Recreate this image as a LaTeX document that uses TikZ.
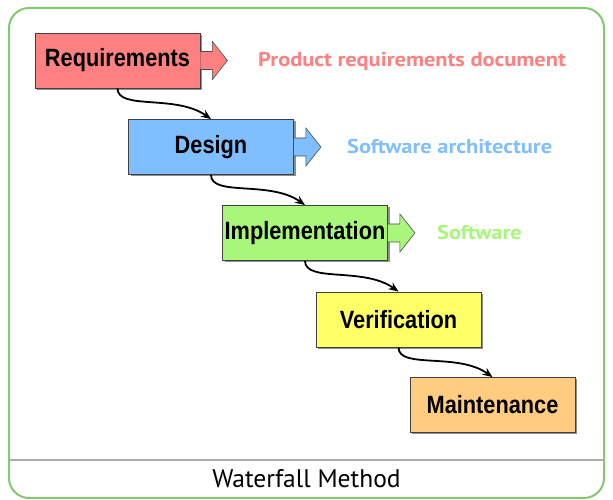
\documentclass[tikz,border=0pt]{standalone}
\usepackage{fontspec}
\usepackage{tikz}
\usetikzlibrary{shadows, arrows.meta}
\setmainfont{PT Sans}
\newfontfamily\stagefont{Liberation Sans}[FakeStretch=0.87]
\newfontfamily\productfont{PT Sans}[FakeStretch=1.12]

\definecolor{framegreen}{RGB}{132,200,112}
\definecolor{rulegray}{RGB}{172,172,176}
\definecolor{reqred}{RGB}{255,128,128}
\definecolor{desblue}{RGB}{128,191,255}
\definecolor{impgreen}{RGB}{168,246,122}
\definecolor{veryellow}{RGB}{255,255,102}
\definecolor{mainorange}{RGB}{255,204,128}

\tikzset{
  stage/.style={draw=black!75, line width=0.8pt, minimum width=165pt, minimum height=55pt,
    inner sep=0pt, font=\stagefont\bfseries\fontsize{25}{25}\selectfont,
    drop shadow={shadow xshift=2pt, shadow yshift=-2pt, opacity=0.55, fill=black!80}},
  outarrow/.style={draw=black!70, line width=0.6pt, line join=miter},
  product/.style={anchor=west, inner sep=0pt, font=\productfont\bfseries\fontsize{20}{20}\selectfont},
  flow/.style={-{Stealth[length=10pt, width=8pt]}, line width=1.8pt}
}

\begin{document}
\begin{tikzpicture}[x=1pt, y=1pt]
  \useasboundingbox (0,0) rectangle (613,500);
  % frame and caption
  \draw[framegreen, line width=2pt, rounded corners=20pt] (9,2) rectangle (604,492);
  \draw[rulegray, line width=2pt] (9,40) -- (604,40);
  \node (caption) at (306.5,21) {\fontsize{25.5}{25.5}\selectfont Waterfall Method};

    % stages
    \node[stage, fill=reqred] (req) at (117.5,439.5) {Requirements};
    \node[stage, fill=desblue] (des) at (211,353) {Design};
    \node[stage, fill=impgreen] (imp) at (305,267) {Implementation};
    \node[stage, fill=veryellow] (ver) at (398.5,180.5) {Verification};
    \node[stage, fill=mainorange] (mai) at (492.5,95) {Maintenance};

    % block arrows to the products
    \draw[outarrow, fill=reqred] (req.east) ++(0,9) -- ++(12,0) -- ++(0,10) -- ++(15,-19) -- ++(-15,-19) -- ++(0,10) -- ++(-12,0);
    \draw[outarrow, fill=desblue] (des.east) ++(0,9) -- ++(12,0) -- ++(0,10) -- ++(15,-19) -- ++(-15,-19) -- ++(0,10) -- ++(-12,0);
    \draw[outarrow, fill=impgreen] (imp.east) ++(0,9) -- ++(12,0) -- ++(0,10) -- ++(15,-19) -- ++(-15,-19) -- ++(0,10) -- ++(-12,0);

    \node[product, text=reqred] (reqdoc) at (258,439) {Product requirements document};
    \node[product, text=desblue] (desdoc) at (347,353) {Software architecture};
    \node[product, text=impgreen] (impdoc) at (437,267) {Software};

    % flow between stages
    \draw[flow] (req.south) .. controls +(0,-22) and +(-35,25) .. (des.north);
    \draw[flow] (des.south) .. controls +(0,-22) and +(-35,25) .. (imp.north);
    \draw[flow] (imp.south) .. controls +(0,-22) and +(-35,25) .. (ver.north);
    \draw[flow] (ver.south) .. controls +(0,-22) and +(-35,25) .. (mai.north);
\end{tikzpicture}
\end{document}
